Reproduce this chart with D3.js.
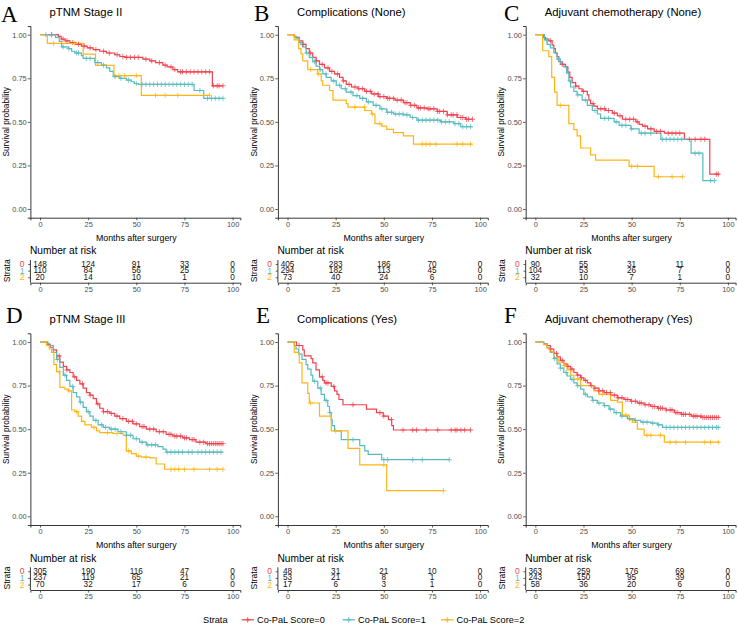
<!DOCTYPE html>
<html><head><meta charset="utf-8">
<script src="https://cdn.jsdelivr.net/npm/d3@7"></script>
<style>body{margin:0;background:#fff}svg{display:block}</style>
</head><body><svg id="c" width="738" height="624" font-family="Arial, 'Liberation Sans', sans-serif"></svg>
<script>
// ---------- DATA ----------
const strataNames = ["Co-PaL Score=0","Co-PaL Score=1","Co-PaL Score=2"];
const strataCodes = ["0","1","2"];
const xTicks = [0,25,50,75,100];
const yTicks = [0,0.25,0.5,0.75,1];
const panelLetters = ["A","B","C","D","E","F"];
const panelTitles = ["pTNM Stage II","Complications (None)","Adjuvant chemotherapy (None)","pTNM Stage III","Complications (Yes)","Adjuvant chemotherapy (Yes)"];

// Panel A
const A0 = [[0,1],[9.5,0.99],[11,0.975],[13,0.965],[15.5,0.955],[18.6,0.945],[21.5,0.935],[24.5,0.925],[27.6,0.915],[31,0.905],[34.5,0.895],[38.8,0.885],[41.4,0.875],[44,0.87],[53.4,0.86],[57,0.85],[60,0.84],[63.8,0.825],[66,0.815],[69,0.80],[71.5,0.787],[89.5,0.707]];
const A1 = [[0,1],[8,0.985],[10,0.962],[11.2,0.93],[14.7,0.92],[16.4,0.905],[18.1,0.895],[21.5,0.88],[22.4,0.864],[28.4,0.84],[31.9,0.825],[34.5,0.81],[36.2,0.79],[38,0.76],[41.4,0.75],[44.8,0.74],[47.4,0.73],[49,0.72],[51,0.715],[80,0.68],[85,0.635]];
const A2 = [[0,1],[3.8,0.95],[22.4,0.889],[28.8,0.824],[38.4,0.765],[52.6,0.652]];
const A0c = [6,12,14,17,20,23,26,29,33,36,40,43,45,47,49,51,55,58,62,65,68,70,73,74,76,78,80,82,84,86,88,90,92,93,95];
const A1c = [3,6,12,15,19,20,24,26,30,33,39,42,46,50,53,55,57,59,61,63,65,67,69,71,73,75,77,79,83,87,89,91,93,95];
const A2c = [7,18,41,44,50,60,65,71.5,88];
const Aend = [95,95,88];
const riskA = [[148,124,91,33,0],[110,84,56,25,0],[20,14,10,1,0]];

// Panel B
const B0 = [[0,1],[3.5,0.99],[4.4,0.985],[6.1,0.965],[7.9,0.945],[9.6,0.92],[11.3,0.895],[13.1,0.87],[14.8,0.85],[16.6,0.83],[19.2,0.81],[21.8,0.79],[24.4,0.775],[27,0.755],[28.8,0.735],[30.5,0.715],[33.2,0.70],[36.6,0.69],[40.1,0.675],[43.6,0.66],[47.1,0.645],[51.5,0.635],[55.8,0.625],[60.2,0.61],[63.7,0.595],[67.2,0.58],[72.4,0.575],[77.7,0.56],[82.9,0.54],[88.1,0.525],[92.5,0.515]];
const B1 = [[0,1],[3.5,0.99],[4.4,0.98],[6.1,0.955],[7.9,0.93],[9.6,0.895],[11.3,0.87],[13.1,0.845],[14.8,0.82],[16.6,0.80],[18.3,0.775],[20.1,0.755],[22.7,0.735],[25.3,0.71],[27.9,0.69],[30.5,0.67],[34,0.65],[37.5,0.635],[41,0.615],[44.5,0.595],[48,0.575],[51.5,0.555],[55,0.545],[60.2,0.54],[63.7,0.525],[67.2,0.51],[79.4,0.50],[86.4,0.49],[89.9,0.472]];
const B2 = [[0,1],[3.5,0.97],[5.8,0.92],[7,0.89],[7.9,0.85],[10.5,0.80],[15.7,0.775],[17.5,0.735],[18.3,0.71],[21.8,0.68],[23.6,0.625],[30.5,0.605],[31.4,0.585],[40.1,0.565],[43.6,0.545],[45.4,0.49],[48.9,0.476],[51.5,0.457],[55,0.438],[60.2,0.42],[65.4,0.372]];
const B0c = [8,12,15,18,21,23,26,29,32,35,37,39,41,43,45,47,48,50,52,53,55,57,59,61,62,64,66,68,69,71,73,74,76,78,79,81,83,85,86,88,90,91,93,94,96];
const B1c = [7,10,14,17,20,24,27,30,33,36,39,42,46,49,52,54,56,58,60,62,65,68,70,72,74,76,78,80,82,84,87,89,91,93,95];
const B2c = [12,16,35,40,44,48,70,72,74,77,88,91,95];
const Bend = [96,96,96];
const riskB = [[405,283,186,70,0],[294,182,113,45,0],[73,40,24,6,0]];

// Panel C
const C0 = [[0,1],[4.3,0.985],[5.2,0.975],[7,0.965],[8.7,0.94],[9.6,0.92],[10.4,0.895],[11.3,0.875],[12.2,0.845],[13.9,0.83],[15.7,0.815],[16.9,0.785],[17.9,0.755],[19.1,0.725],[20.9,0.705],[22.6,0.69],[24.3,0.675],[27,0.655],[27.8,0.625],[28.7,0.605],[30.4,0.59],[32.2,0.575],[36.5,0.565],[40,0.55],[42.6,0.535],[45.2,0.515],[52.2,0.50],[53.9,0.485],[55.7,0.475],[58.3,0.46],[61.7,0.445],[67,0.435],[77.4,0.40],[90.6,0.20]];
const C1 = [[0,1],[4.7,0.97],[6.1,0.945],[7.8,0.925],[9.6,0.895],[11.3,0.86],[13,0.83],[14.8,0.815],[16.2,0.78],[17.4,0.735],[18.3,0.70],[20,0.675],[21.7,0.655],[24.3,0.625],[27,0.595],[29.6,0.565],[32.2,0.545],[33.9,0.52],[40.9,0.50],[43.5,0.48],[49.6,0.46],[53.9,0.435],[65.2,0.40],[80.9,0.32],[87,0.163]];
const C2 = [[0,1],[3.8,0.908],[7,0.874],[8.5,0.755],[10,0.67],[11.3,0.595],[17.4,0.49],[20,0.455],[21.7,0.42],[23.5,0.35],[28.7,0.31],[31.3,0.28],[48.7,0.245],[61.7,0.185]];
const C0c = [8,14,21,25,30,34,36,38,41,44,47,49,51,53,57,60,63,65,69,71,73,75,80,83,86,88,94,95];
const C1c = [6,12,18,22,26,31,36,38,42,45,47,50,55,57,60,66,68,70,72,74,76,83,85,91,93];
const C2c = [13,50,53,64,71,76.5];
const Cend = [95.7,93,76.5];
const riskC = [[90,55,31,11,0],[104,53,26,7,0],[32,10,7,1,0]];

// Panel D
const D0 = [[0,1],[4,0.985],[5.2,0.97],[6.9,0.955],[8.6,0.92],[10.3,0.885],[12.1,0.86],[13.8,0.84],[15.5,0.825],[17.2,0.80],[19,0.78],[20.7,0.76],[22.4,0.735],[24.1,0.71],[25.9,0.695],[27.6,0.675],[29.3,0.645],[31,0.62],[32.8,0.60],[36.2,0.59],[38.8,0.575],[41.4,0.56],[44.8,0.545],[48.3,0.53],[51.7,0.515],[55.2,0.50],[60.3,0.485],[65.5,0.47],[69,0.46],[74.1,0.45],[77.6,0.44],[81,0.425],[86.2,0.417]];
const D1 = [[0,1],[4,0.99],[5.2,0.98],[6.9,0.94],[8.6,0.90],[10.3,0.855],[12.1,0.81],[13.8,0.78],[15.5,0.745],[17.2,0.71],[19,0.685],[20.7,0.655],[22.4,0.625],[24.1,0.60],[25.9,0.575],[27.6,0.55],[30.2,0.525],[32.8,0.51],[36.2,0.50],[40.5,0.485],[44.8,0.465],[48.3,0.445],[51.7,0.425],[55.2,0.41],[61.2,0.40],[63.8,0.385],[65.5,0.368]];
const D2 = [[0,1],[3.4,0.98],[4.8,0.96],[6,0.94],[7.2,0.87],[8.6,0.83],[10.3,0.74],[12.9,0.73],[14.7,0.72],[16.4,0.61],[18.1,0.60],[19.8,0.575],[21.6,0.545],[23.3,0.525],[26.7,0.51],[29.3,0.49],[31,0.48],[37.9,0.475],[43.1,0.465],[44.8,0.375],[47.4,0.36],[50,0.345],[52.6,0.34],[56.9,0.335],[60.3,0.30],[64.7,0.27]];
const D0c = [10,14,18,22,26,30,33,35,37,40,43,46,48,50,53,54,57,59,62,64,67,68,70,71,73,75,76,79,80,83,85,87,88,89,90,91,92,93,94,95];
const D1c = [9,13,17,21,25,29,32,34,37,39,42,45,47,50,53,56,58,60,66,68,70,72,74,77,79,82,84,86,88,90,92,94];
const D2c = [10,15,19,28,35,40,46,51,55,68,70,72,75,80,88,92,95];
const Dend = [95,95,95];
const riskD = [[305,190,116,47,0],[237,119,65,21,0],[70,32,17,6,0]];

// Panel E
const E0 = [[0,1],[4.7,0.98],[7.9,0.955],[8.7,0.92],[12.2,0.905],[13.1,0.88],[14.8,0.84],[16.6,0.80],[18.3,0.78],[19.2,0.765],[22.7,0.745],[24.4,0.72],[25.7,0.70],[26.7,0.67],[28.8,0.64],[41,0.615],[46.2,0.595],[49.7,0.575],[52.4,0.555],[54.1,0.52],[55,0.495]];
const E1 = [[0,1],[3.5,0.98],[4.4,0.96],[5.8,0.93],[7.5,0.90],[9.6,0.87],[10.5,0.845],[12.2,0.81],[13.1,0.775],[15.7,0.735],[17.5,0.70],[19.2,0.665],[20.9,0.63],[21.8,0.595],[22.7,0.555],[23.2,0.52],[24.4,0.49],[27.9,0.44],[37.5,0.405],[40.1,0.375],[41.9,0.355],[48.9,0.325]];
const E2 = [[0,1],[3.5,0.94],[6.1,0.88],[7.5,0.765],[10.5,0.705],[11.3,0.65],[16.6,0.575],[22.7,0.49],[31.4,0.39],[37.5,0.295],[51.5,0.147]];
const E0c = [6,18,20,21,24,34,48,50,54,60,65,67,72,78,85,87,88,90,92,95];
const E1c = [14,17,20,22,34,50,52,65,70,84];
const E2c = [12,25,50,81];
const Eend = [95,84,81];
const riskE = [[48,31,21,10,0],[53,21,8,1,0],[17,6,3,1,0]];

// Panel F
const F0 = [[0,1],[4.3,0.99],[6.1,0.98],[7.8,0.96],[9.6,0.935],[11.3,0.915],[13,0.895],[14.8,0.875],[16.5,0.86],[18.3,0.845],[20,0.825],[21.7,0.81],[23.5,0.795],[25.2,0.78],[27,0.765],[28.7,0.75],[30.4,0.735],[33,0.72],[35.7,0.71],[39.1,0.695],[42.6,0.68],[46.1,0.67],[49.6,0.66],[53,0.65],[56.5,0.64],[60,0.63],[63.5,0.62],[67.8,0.61],[72.2,0.595],[75.7,0.585],[80.9,0.575],[86.1,0.567]];
const F1 = [[0,1],[4.3,0.99],[6.1,0.97],[7.8,0.94],[9.6,0.905],[11.3,0.875],[13,0.85],[14.8,0.825],[16.5,0.805],[18.3,0.785],[20,0.765],[21.7,0.75],[23.5,0.73],[25.2,0.70],[27,0.685],[29.6,0.665],[32.2,0.65],[35.7,0.635],[38.3,0.615],[40.9,0.595],[44.3,0.575],[47.8,0.56],[51.3,0.55],[54.8,0.54],[60,0.535],[63.5,0.525],[66.1,0.51]];
const F2 = [[0,1],[4.3,0.985],[6.1,0.965],[7.8,0.945],[9.6,0.91],[12.2,0.885],[14.8,0.865],[16.5,0.84],[18.3,0.81],[20,0.787],[23.5,0.75],[30.4,0.72],[33,0.70],[39.1,0.665],[42.6,0.655],[45.2,0.58],[48.7,0.555],[50.4,0.54],[53,0.50],[56.5,0.465],[67,0.425]];
const F0c = [8,11,14,17,19,22,24,26,29,31,33,35,37,39,41,43,45,47,48,50,52,54,55,57,59,61,62,64,65,66,68,70,71,73,74,76,77,78,80,82,83,84,86,87,88,89,90,91,92,93,94,95];
const F1c = [10,13,16,19,22,26,30,33,36,39,42,45,49,52,56,58,61,64,68,70,72,74,76,78,80,82,84,86,88,90,92,94,95];
const F2c = [15,22,35,47,58,60,65,70,73,78,88,91,95];
const Fend = [95.7,95.7,95.7];
const riskF = [[363,259,176,69,0],[243,150,95,39,0],[58,36,20,6,0]];

// ---------- STYLE / LAYOUT ----------
const colors = ["#F1434F","#57BBBE","#FDB515"];
const colOff = [0,247.5,495.3];
const rowOff = [0,307.3];
const letterPos = [[1,21.5],[254,20.5],[504,20.5],[6,323],[256,322.5],[504,323]];

const panels = [
  {steps:[A0,A1,A2],cens:[A0c,A1c,A2c],ends:Aend,risk:riskA},
  {steps:[B0,B1,B2],cens:[B0c,B1c,B2c],ends:Bend,risk:riskB},
  {steps:[C0,C1,C2],cens:[C0c,C1c,C2c],ends:Cend,risk:riskC},
  {steps:[D0,D1,D2],cens:[D0c,D1c,D2c],ends:Dend,risk:riskD},
  {steps:[E0,E1,E2],cens:[E0c,E1c,E2c],ends:Eend,risk:riskE},
  {steps:[F0,F1,F2],cens:[F0c,F1c,F2c],ends:Fend,risk:riskF}
];

const svg = d3.select("#c");
const grey30 = "#4D4D4D";
const plusPath = "M-2.6,0H2.6M0,-2.6V2.6";
const serif = "'Liberation Serif','Times New Roman',Times,serif";

function survAt(steps,t){let s=steps[0][1];for(const p of steps){if(p[0]<=t)s=p[1];else break;}return s;}

panels.forEach((p,i)=>{
  const ox = colOff[i%3], oy = rowOff[Math.floor(i/3)];
  const g = svg.append("g");
  const x = d3.scaleLinear().domain([-5,104]).range([ox+30.4, ox+240.3]);
  const y = d3.scaleLinear().domain([-0.05,1.05]).range([oy+217.7, oy+26]);

  // letter & title
  g.append("text").attr("x",letterPos[i][0]).attr("y",letterPos[i][1])
    .style("font-family",serif).attr("font-size",23).text(panelLetters[i]);
  g.append("text").attr("x",ox+49.5).attr("y",oy+15.5).attr("font-size",11.3).text(panelTitles[i]);

  // axes
  const ya = g.append("g").attr("transform",`translate(${ox+30.4},0)`)
    .call(d3.axisLeft(y).tickValues(yTicks).tickFormat(d3.format(".2f")).tickSizeOuter(0).tickSize(2.6));
  const xa = g.append("g").attr("transform",`translate(0,${oy+217.7})`)
    .call(d3.axisBottom(x).tickValues(xTicks).tickFormat(d3.format("d")).tickSizeOuter(0).tickSize(2.6));
  [ya,xa].forEach(a=>{
    a.attr("font-family",null);
    a.select(".domain").attr("stroke","#222").attr("stroke-width",0.9);
    a.selectAll(".tick line").attr("stroke","#333").attr("stroke-width",0.8);
    a.selectAll(".tick text").attr("fill",grey30).attr("font-size",7.4);
  });
  ya.selectAll(".tick text").attr("x",-3.8);
  xa.selectAll(".tick text").attr("y",4);

  g.append("text").attr("transform",`translate(${ox+6},${oy+121.8}) rotate(-90)`)
    .attr("text-anchor","middle").attr("dominant-baseline","central").attr("font-size",8.3).text("Survival probability");
  g.append("text").attr("x",ox+136.3).attr("y",oy+240.8).attr("text-anchor","middle").attr("font-size",8.8).text("Months after surgery");

  // curves
  const line = d3.line().x(d=>x(d[0])).y(d=>y(d[1])).curve(d3.curveStepAfter);
  p.steps.forEach((st,k)=>{
    const pts = st.concat([[p.ends[k], st[st.length-1][1]]]);
    g.append("path").attr("d",line(pts)).attr("fill","none").attr("stroke",colors[k]).attr("stroke-width",1.2);
  });
  p.steps.forEach((st,k)=>{
    g.selectAll(null).data(p.cens[k]).enter().append("path")
      .attr("d",plusPath).attr("transform",t=>`translate(${x(t)},${y(survAt(st,t))})`)
      .attr("stroke",colors[k]).attr("stroke-width",0.9).attr("fill","none").attr("opacity",0.85);
  });

  // risk table
  g.append("text").attr("x",ox+30).attr("y",oy+254.3).attr("font-size",10.2).text("Number at risk");
  const ry = d3.scalePoint().domain(strataCodes).range([oy+264,oy+277.3]);
  const ra = g.append("g").attr("transform",`translate(${ox+30.4},0)`)
    .call(d3.axisLeft(ry).tickSize(2.2).tickSizeOuter(0).tickFormat(""));
  ra.select(".domain").attr("d",`M0,${oy+260}V${oy+282.7}`).attr("stroke","#222").attr("stroke-width",0.9);
  ra.selectAll(".tick line").attr("stroke","#333").attr("stroke-width",0.8);
  strataCodes.forEach((c,k)=>{
    g.append("text").attr("x",ox+22).attr("y",ry(c)).attr("dominant-baseline","central").attr("text-anchor","middle")
      .attr("font-size",8.5).attr("fill",colors[k]).text(c);
  });
  g.append("text").attr("transform",`translate(${ox+6.5},${oy+270.7}) rotate(-90)`)
    .attr("text-anchor","middle").attr("dominant-baseline","central").attr("font-size",8.6).text("Strata");
  p.risk.forEach((row,k)=>{
    g.selectAll(null).data(row).enter().append("text")
      .attr("x",(d,j)=>x(xTicks[j])).attr("y",ry(strataCodes[k])).attr("dominant-baseline","central")
      .attr("text-anchor","middle").attr("font-size",8.2).attr("fill","#111").text(d=>d);
  });
  const tx = g.append("g").attr("transform",`translate(0,${oy+282.7})`)
    .call(d3.axisBottom(x).tickValues(xTicks).tickFormat(d3.format("d")).tickSizeOuter(0).tickSize(2.6));
  tx.attr("font-family",null);
  tx.select(".domain").attr("stroke","#222").attr("stroke-width",0.9);
  tx.selectAll(".tick line").attr("stroke","#333").attr("stroke-width",0.8);
  tx.selectAll(".tick text").attr("fill",grey30).attr("font-size",7.4).attr("y",4);
});

// legend
const lg = svg.append("g");
lg.append("text").attr("x",203).attr("y",619.8).attr("dominant-baseline","central").attr("font-size",9.2).text("Strata");
const legX = [241.5,342.5,441];
strataNames.forEach((n,k)=>{
  lg.append("line").attr("x1",legX[k]).attr("x2",legX[k]+12.5).attr("y1",619.8).attr("y2",619.8)
    .attr("stroke",colors[k]).attr("stroke-width",1.2);
  lg.append("path").attr("d",plusPath).attr("transform",`translate(${legX[k]+6.25},619.8)`)
    .attr("stroke",colors[k]).attr("stroke-width",1).attr("fill","none");
  lg.append("text").attr("x",legX[k]+15.5).attr("y",619.8).attr("dominant-baseline","central").attr("font-size",9.2).text(n);
});
</script></body></html>
